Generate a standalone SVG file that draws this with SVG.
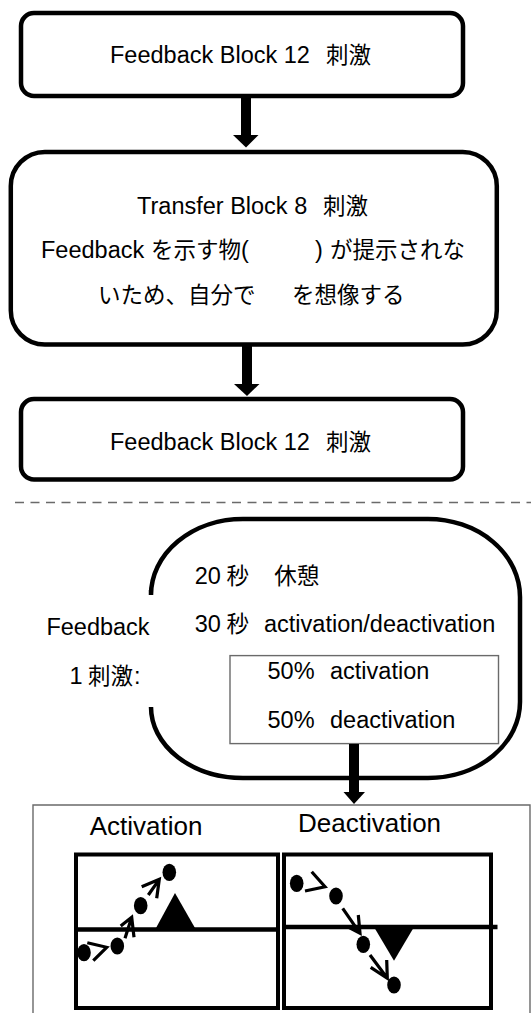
<svg xmlns="http://www.w3.org/2000/svg" width="531" height="1013" viewBox="0 0 531 1013" xml:space="preserve">
<style>
.box{fill:#fff;stroke:#000;stroke-width:4.5}
.t{font-family:"Liberation Sans","Noto Sans CJK JP",sans-serif;font-size:23.5px;fill:#000}
.c{font-size:22.5px}
.big{font-size:26px}
.thin{fill:none;stroke:#6a6a6a;stroke-width:1.4}
.panel{fill:#fff;stroke:#000;stroke-width:4}
.axis{stroke:#000;stroke-width:4.5}
.arr{fill:none;stroke:#000;stroke-width:3.2;stroke-linecap:butt}
</style>
<rect width="531" height="1013" fill="#fff"/>

<g id="node-feedback-1">
<rect class="box" x="21" y="13" width="442" height="83" rx="13"/>
<text class="t" y="63"><tspan x="110">Feedback Block 12</tspan><tspan class="c" x="326">刺激</tspan></text>
</g>

<g id="node-transfer">
<rect class="box" x="10.8" y="152" width="486" height="192.5" rx="34"/>
<text class="t" y="214"><tspan x="137">Transfer Block 8</tspan><tspan class="c" x="323">刺激</tspan></text>
<text class="t" y="258"><tspan x="41">Feedback</tspan><tspan class="c" x="151">を示す物</tspan><tspan x="241">(</tspan><tspan x="315">)</tspan><tspan class="c" x="330">が提示されな</tspan></text>
<text class="t c" y="303"><tspan x="98">いため、自分で</tspan><tspan x="292">を想像する</tspan></text>
</g>

<g id="node-feedback-2">
<rect class="box" x="21" y="399" width="442" height="80.5" rx="13"/>
<text class="t" y="450"><tspan x="110">Feedback Block 12</tspan><tspan class="c" x="326">刺激</tspan></text>
</g>

<line x1="15" y1="502.5" x2="531" y2="502.5" stroke="#6a6a6a" stroke-width="1.5" stroke-dasharray="9 6.5"/>

<g id="node-trial">
<path d="M151,590 L151,595 A92,76 0 0 1 243,519 L428,519 A92,78 0 0 1 520,597 L520,702 A92,76 0 0 1 428,778 L243,778 A92,71 0 0 1 151,707" fill="none" stroke="#000" stroke-width="4.5"/>
<text class="t" y="635" x="46.4">Feedback</text>
<text class="t" y="684"><tspan x="69.4">1</tspan><tspan class="c" x="88">刺激</tspan><tspan x="134">:</tspan></text>
<text class="t" y="583.5"><tspan x="194.7">20</tspan><tspan class="c" x="226.5">秒</tspan><tspan class="c" x="274.3">休憩</tspan></text>
<text class="t" y="632"><tspan x="194.7">30</tspan><tspan class="c" x="226.5">秒</tspan><tspan x="264">activation/deactivation</tspan></text>
</g>

<g id="node-ratio">
<rect class="thin" x="230" y="655.6" width="268.5" height="88"/>
<text class="t" y="679"><tspan x="267.5">50%</tspan><tspan x="330">activation</tspan></text>
<text class="t" y="728"><tspan x="267.5">50%</tspan><tspan x="330">deactivation</tspan></text>
</g>

<g id="node-examples">
<path class="thin" d="M33,1013 L33,805 L530,805 L530,1013"/>
<text class="t big" x="89.7" y="834.5">Activation</text>
<text class="t big" x="298" y="832">Deactivation</text>

<g id="panel-activation">
<rect class="panel" x="76" y="854.5" width="202" height="153.5"/>
<line class="axis" x1="76" y1="929.5" x2="278" y2="929.5"/>
<polygon points="156,928 175,893 195,928" fill="#000"/>
<ellipse cx="84" cy="952.7" rx="6.8" ry="8.6"/>
<ellipse cx="117.3" cy="946" rx="6.8" ry="8.6"/>
<ellipse cx="140.7" cy="905.7" rx="6.8" ry="8.6"/>
<ellipse cx="169.3" cy="872.3" rx="6.8" ry="8.6"/>
<path class="arr" d="M87.3,942.7 L106.7,947.3 L93.3,960.7"/>
<path class="arr" d="M125,938.3 L131.7,917.3 M120.7,926 L131.7,917.3 L134,937.3"/>
<path class="arr" d="M148.3,895 L159.3,879.3 M141.7,886.7 L159.3,879.3 L156.7,898.3"/>
</g>

<g id="panel-deactivation">
<rect class="panel" x="284" y="854.5" width="207" height="153.5"/>
<line class="axis" x1="284" y1="927" x2="497.5" y2="927"/>
<polygon points="374,927 414,927 394,960.7" fill="#000"/>
<ellipse cx="296.7" cy="883.3" rx="6.8" ry="8.6"/>
<ellipse cx="336" cy="896" rx="6.8" ry="8.6"/>
<ellipse cx="363.3" cy="944.3" rx="6.8" ry="8.6"/>
<ellipse cx="394" cy="985" rx="6.8" ry="8.6"/>
<path class="arr" d="M311.7,871.7 L325,886.7 L305,891"/>
<path class="arr" d="M342.7,908.3 L360,933.3 M358.3,915 L360,933.3 L347.3,926.7"/>
<path class="arr" d="M370,955 L387.3,978.3 M386.7,960 L387.3,978.3 L370.7,967.3"/>
</g>
</g>

<g id="connectors" fill="#000">
<rect x="241" y="96" width="10" height="40"/>
<polygon points="233,135 258.5,135 246,147.5"/>
<rect x="242" y="344" width="10" height="41"/>
<polygon points="234,384 259.5,384 247,396"/>
<rect x="349" y="744" width="10" height="49"/>
<polygon points="343.5,792 365,792 354,804"/>
</g>
</svg>
